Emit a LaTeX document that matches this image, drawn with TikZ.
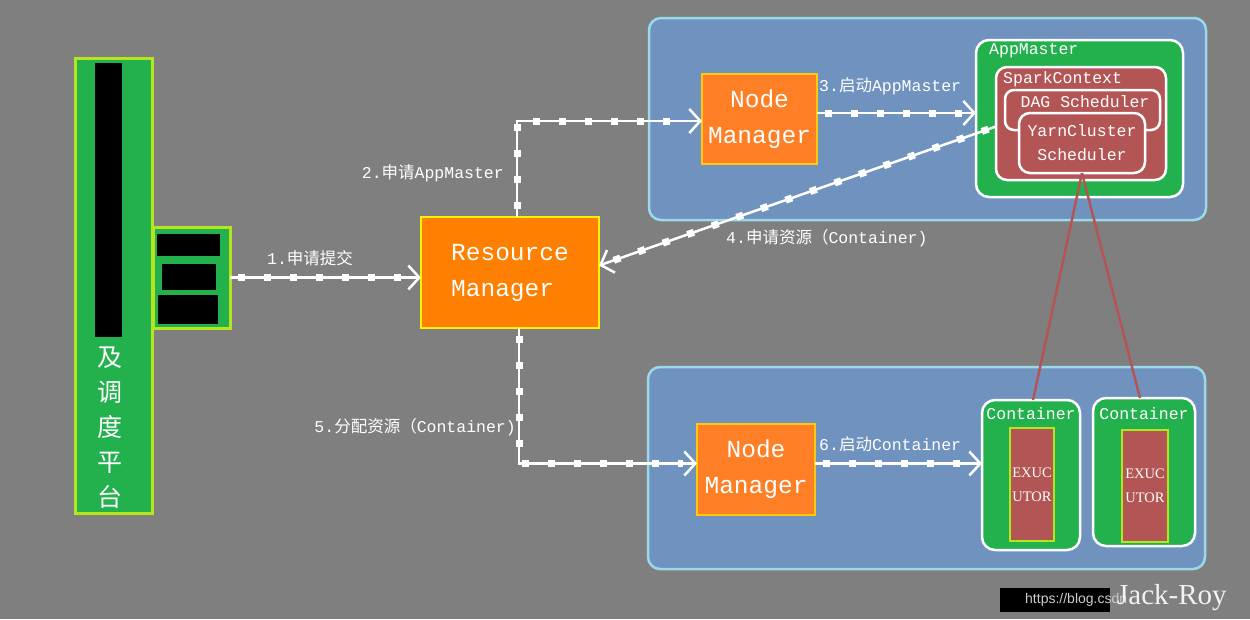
\documentclass[tikz,border=0pt]{standalone}
\usepackage{fontspec}
\setmainfont{Liberation Mono}
\newfontfamily\cjk{Noto Sans CJK SC}
\newfontfamily\serifr{Liberation Serif}
\newfontfamily\sansr{Liberation Sans}
\usetikzlibrary{arrows.meta}
\definecolor{bggray}{HTML}{7F7F7F}
\definecolor{panelblue}{HTML}{6F92BF}
\definecolor{paneledge}{HTML}{99D9EA}
\definecolor{grn}{HTML}{22B14C}
\definecolor{lime}{HTML}{B5E61D}
\definecolor{rmorange}{HTML}{FF7F00}
\definecolor{nmorange}{HTML}{FF7F27}
\definecolor{nmedge}{HTML}{FFC90E}
\definecolor{rdbox}{HTML}{B45555}
\tikzset{
  box/.style={inner sep=0pt, outer sep=0pt},
  panel/.style={box, fill=panelblue, draw=paneledge, line width=2.5pt, rounded corners=12pt},
  greenlime/.style={box, fill=grn, draw=lime, line width=3pt},
  nmbox/.style={box, fill=nmorange, draw=nmedge, line width=2.5pt, text=white, font=\fontsize{24.5}{36}\selectfont, align=center},
  whitebox/.style={box, draw=white, line width=2.5pt, rounded corners=13pt},
  lbl/.style={text=white, inner sep=0pt, font=\fontsize{16.5}{24}\selectfont},
  exbox/.style={box, fill=rdbox, draw=lime, line width=2.5pt, text=white, font=\serifr\fontsize{14.5}{24}\selectfont, align=center},
  flow/.style={draw=white, line width=2.5pt, -{Straight Barb[length=11pt,width=24pt,line width=2.5pt]},
    postaction={draw=white, -, line width=7pt, dash pattern=on 7pt off 19pt, shorten >=14pt, shorten <=8pt}},
  redline/.style={draw=rdbox, line width=2.5pt}
}
\begin{document}
\begin{tikzpicture}[x=1pt,y=-1pt]
\useasboundingbox (0,0) rectangle (1250,619);
\fill[bggray] (0,0) rectangle (1250,619);

% left platform
\node[greenlime, minimum width=77pt, minimum height=455pt] (L) at (113.5,285.5) {};
\node[box, fill=black, minimum width=27pt, minimum height=274pt] (Lblack) at (108.5,200) {};
\node[text=white, inner sep=0pt, font=\cjk\fontsize{25}{35}\selectfont, align=center] (Ltext) at (110,428) {及\\调\\度\\平\\台};

% small box
\node[greenlime, minimum width=77pt, minimum height=101pt] (S) at (191.5,277.5) {};
\node[box, fill=black, minimum width=63pt, minimum height=22pt] (Sb1) at (188.5,245) {};
\node[box, fill=black, minimum width=54pt, minimum height=26pt] (Sb2) at (189,277) {};
\node[box, fill=black, minimum width=60pt, minimum height=29pt] (Sb3) at (188,309) {};

% resource manager
\node[box, fill=rmorange, draw=yellow, line width=2.5pt, minimum width=178pt, minimum height=111pt,
  text=white, font=\fontsize{24.5}{36}\selectfont, align=left] (RM) at (510,272.5) {Resource\\Manager};

% top panel
\node[panel, minimum width=557pt, minimum height=202pt] (P1) at (927.5,119) {};
\node[nmbox, minimum width=115pt, minimum height=90pt] (NM1) at (759.5,119) {Node\\Manager};
\node[whitebox, fill=grn, minimum width=207pt, minimum height=157pt] (AM) at (1079.5,118.5) {};
\node[lbl, anchor=west] (AMl) at (989,51) {AppMaster};
\node[whitebox, fill=rdbox, rounded corners=11pt, minimum width=170pt, minimum height=113pt] (SC) at (1081,123.5) {};
\node[lbl, anchor=west] (SCl) at (1003,79) {SparkContext};
\node[whitebox, fill=rdbox, rounded corners=9pt, minimum width=155pt, minimum height=40pt] (DAG) at (1082.5,110) {};
\node[lbl] (DAGl) at (1085,102) {DAG Scheduler};
\node[whitebox, fill=rdbox, rounded corners=11pt, minimum width=126pt, minimum height=60pt, lbl, align=center] (YC) at (1082,143) {YarnCluster\\Scheduler};

% bottom panel
\node[panel, minimum width=557pt, minimum height=202pt] (P2) at (926.5,468) {};
\node[nmbox, minimum width=118pt, minimum height=91pt] (NM2) at (756,469.5) {Node\\Manager};
\node[whitebox, fill=grn, minimum width=98pt, minimum height=150pt] (C1) at (1031,475) {};
\node[lbl] (C1l) at (1031,414) {Container};
\node[exbox, minimum width=44pt, minimum height=113pt] (E1) at (1032,484.5) {EXUC\\UTOR};
\node[whitebox, fill=grn, minimum width=102pt, minimum height=148pt] (C2) at (1144,472) {};
\node[lbl] (C2l) at (1144,414) {Container};
\node[exbox, minimum width=46pt, minimum height=112pt] (E2) at (1145,486) {EXUC\\UTOR};

% red links
\draw[redline] (YC.south) -- ([xshift=2pt]C1.north);
\draw[redline] (YC.south) -- ([xshift=-4pt]C2.north);

% flows
\draw[flow] (S.east) -- (S.east -| RM.west);
\node[lbl] (f1) at (310,258) {1.{\cjk 申请提交}};

\draw[flow] ([xshift=7pt]RM.north) |- ([yshift=-2pt]NM1.west);
\node[lbl, anchor=east] (f2) at (504,173) {2.{\cjk 申请}AppMaster};

\draw[flow] ([yshift=6pt]NM1.east) -- ([yshift=6pt]NM1.east -| AM.west);
\node[lbl, anchor=west] (f3) at (819,86) {3.{\cjk 启动}AppMaster};

\draw[flow] ([yshift=-3pt]SC.west) -- ([yshift=7pt]RM.east);
\node[lbl, anchor=west] (f4) at (726,238) {4.{\cjk 申请资源（}Container)};

\draw[flow] ([xshift=9pt]RM.south) |- ([yshift=6pt]NM2.west);
\node[lbl, anchor=east] (f5) at (516,427) {5.{\cjk 分配资源（}Container)};

\draw[flow] ([yshift=6pt]NM2.east) -- ([yshift=6pt]NM2.east -| C1.west);
\node[lbl, anchor=west] (f6) at (819,444) {6.{\cjk 启动}Container};

% watermark
\node[box, fill=black, minimum width=110pt, minimum height=24pt] (wm) at (1055,600) {};
\node[inner sep=0pt, anchor=west, text=black!20, font=\sansr\fontsize{14}{16}\selectfont] (wmt) at (1025,600) {https://blog.csdn};
\node[inner sep=0pt, anchor=west, text=white!90!gray, font=\serifr\fontsize{29}{30}\selectfont] (wmj) at (1117,598) {Jack-Roy};
\end{tikzpicture}
\end{document}
